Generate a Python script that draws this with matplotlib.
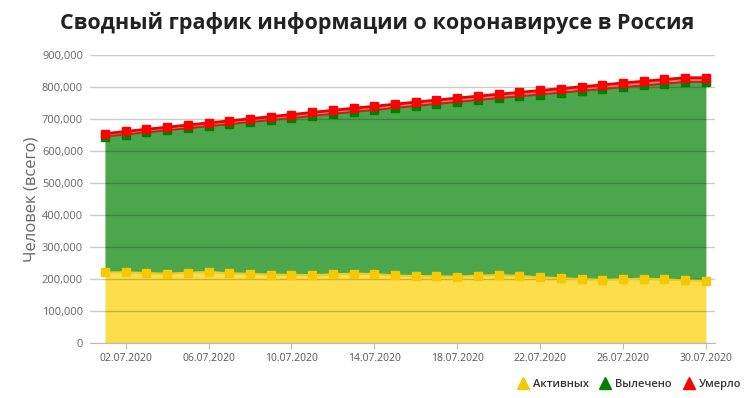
import numpy as np
import pandas as pd
import matplotlib
matplotlib.use("Agg")
import matplotlib.pyplot as plt
from matplotlib.lines import Line2D
from matplotlib.ticker import FuncFormatter

# Daily values for July 2020 (people, cumulative)
dates = pd.date_range("2020-07-01", "2020-07-30").strftime("%d.%m.%Y").tolist()

active = [220600, 221000, 218500, 216500, 219500, 222000, 218000, 216000, 214000, 213000,
          212000, 214500, 217000, 215500, 211000, 209500, 208500, 207500, 210500, 212000,
          209500, 205500, 202500, 199500, 197500, 199000, 201000, 199000, 195500, 194500]
recovered = [424300, 430500, 439500, 448000, 451600, 455600, 465700, 474100, 482500, 489900,
             497300, 501400, 505300, 512800, 523600, 531400, 538600, 545700, 548700, 553100,
             561200, 571000, 579600, 588300, 596000, 600300, 603800, 611000, 620000, 621000]
died = [9536, 9683, 9859, 10027, 10161, 10296, 10494, 10667, 10843, 11017,
        11205, 11335, 11439, 11614, 11769, 11937, 12123, 12247, 12342, 12427,
        12580, 12745, 12892, 13046, 13172, 13249, 13334, 13483, 13504, 13504]

labels = ["Активных", "Вылечено", "Умерло"]

plt.rcParams['font.family'] = ['Open Sans', 'DejaVu Sans']

x = np.arange(len(dates))
layer1 = np.array(active)
layer2 = layer1 + np.array(recovered)
layer3 = layer2 + np.array(died)

fig = plt.figure(figsize=(7.55, 3.98), dpi=100)
ax = fig.add_axes([90 / 755, 55 / 398, 625 / 755, 288 / 398])

# stacked areas
ax.fill_between(x, 0, layer1, color="#fcdd4a", lw=0, zorder=1)
ax.fill_between(x, layer1, layer2, color="#4ca64c", lw=0, zorder=1)
ax.fill_between(x, layer2, layer3, color="#ff6b6b", lw=0, zorder=1)

# grid lines over the fills
for v in range(0, 900001, 100000):
    ax.axhline(v, color=(0, 0, 0, 0.2), lw=1, zorder=2)

# borders and markers
ax.plot(x, layer1, color="#f2cb1d", lw=1.5, marker="s", ms=5.5, mfc="#f5c800", mec="#f5c800", zorder=3)
ax.plot(x, layer2, color="#2f7f2f", lw=1.5, marker="s", ms=5.8, mfc="#008000", mec="#008000", zorder=3)
ax.plot(x, layer2, color="#ee1111", lw=1, zorder=4)
ax.plot(x, layer3, color="#ee0000", lw=2, marker="s", ms=5.8, mfc="#ff0000", mec="#ff0000", zorder=5)

ax.set_xlim(-0.72, 29.44)
ax.set_ylim(0, 900000)
ax.set_yticks(range(0, 900001, 100000))
ax.yaxis.set_major_formatter(FuncFormatter(lambda v, p: f"{int(v):,}"))
ax.tick_params(axis="y", length=0, pad=5, labelsize=8, labelcolor="#666666")

tick_idx = list(range(1, len(dates), 4))
ax.set_xticks(tick_idx)
ax.set_xticklabels([dates[i] for i in tick_idx])
ax.tick_params(axis="x", length=4, color="#bbbbbb", pad=3, labelsize=7.5, labelcolor="#555555")

for s in ["top", "right", "left"]:
    ax.spines[s].set_visible(False)
ax.spines["bottom"].set_color("#bbbbbb")
ax.set_facecolor("white")

ax.set_ylabel("Человек (всего)", fontsize=12, color="#666666")
ax.yaxis.set_label_coords(-0.08, 0.5)

fig.text(0.5, 0.943, "Сводный график информации о коронавирусе в Россия",
         ha="center", va="center", fontsize=15.5, fontweight="bold", color="#222222")

handles = [Line2D([], [], ls="", marker="^", ms=8, color=c) for c in ["#f5c800", "#008000", "#ff0000"]]
fig.legend(handles, labels, loc="center right", bbox_to_anchor=(0.995, 0.035), ncol=3,
           frameon=False, handlelength=0.6, handletextpad=0.6, columnspacing=1.2,
           prop={"size": 8, "weight": "semibold"}, labelcolor="#333333")

fig.savefig("out.png", dpi=100)
